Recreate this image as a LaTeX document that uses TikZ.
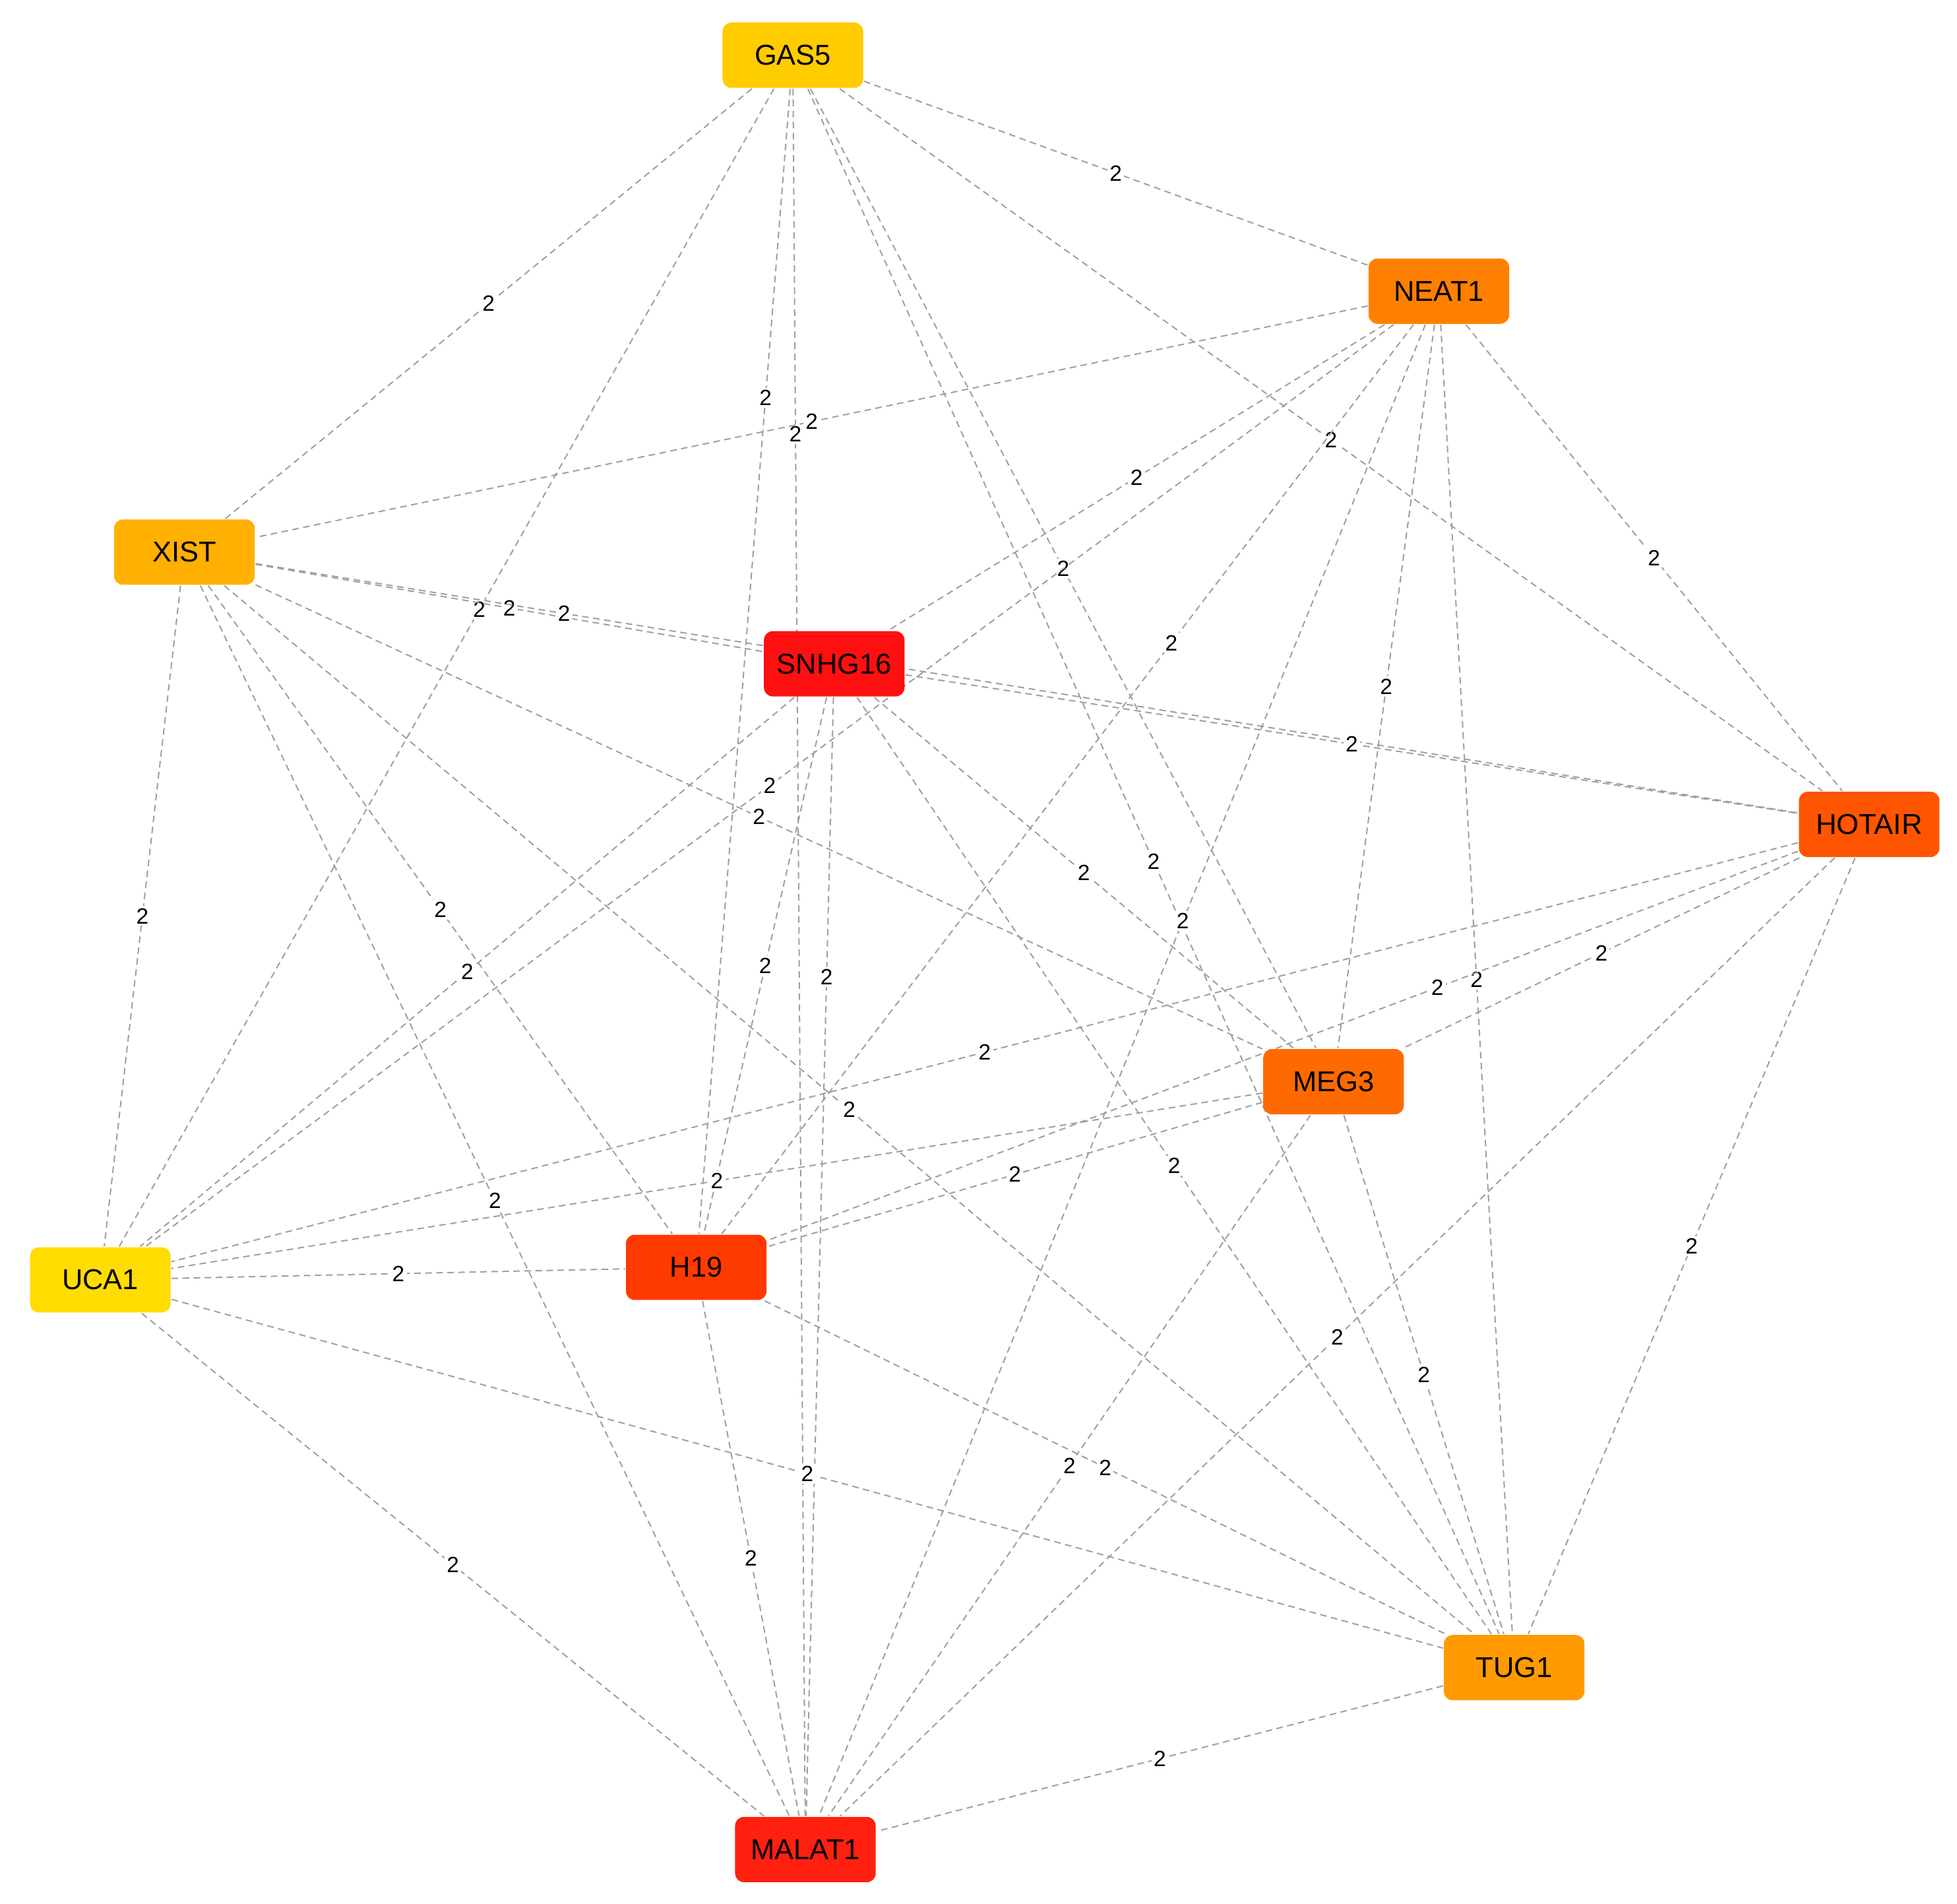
\documentclass[tikz,border=0pt]{standalone}
\usepackage{fontspec}
\setmainfont{Liberation Sans}
\definecolor{cGAS5}{RGB}{255,204,0}
\definecolor{cNEAT1}{RGB}{255,128,0}
\definecolor{cXIST}{RGB}{255,176,0}
\definecolor{cSNHG16}{RGB}{255,16,16}
\definecolor{cHOTAIR}{RGB}{255,85,0}
\definecolor{cMEG3}{RGB}{255,106,0}
\definecolor{cUCA1}{RGB}{255,221,0}
\definecolor{cH19}{RGB}{255,58,0}
\definecolor{cTUG1}{RGB}{255,154,0}
\definecolor{cMALAT1}{RGB}{255,32,16}
\begin{document}
\begin{tikzpicture}[x=0.01cm,y=-0.01cm,
  gene/.style={draw=none,rounded corners=2pt,minimum width=1.12cm,minimum height=0.52cm,font=\fontsize{6.5}{8}\selectfont,inner sep=0pt},
  lnk/.style={draw=gray!75,dash pattern=on 1.5pt off 1pt,line width=0.3pt},
  wt/.style={font=\fontsize{5}{6}\selectfont,inner sep=0.5pt,fill=white}]
\useasboundingbox (0,0) rectangle (1560,1517);
\foreach \n/\x/\y in {GAS5/632/44,NEAT1/1147/232,XIST/147/440,SNHG16/665/529,HOTAIR/1490/657,MEG3/1063/862,UCA1/80/1020,H19/555/1010,TUG1/1207/1329,MALAT1/642/1474}
  \node[gene] (\n) at (\x,\y) {};
\foreach \a/\b/\p in {GAS5/XIST/0.5,GAS5/UCA1/0.45,GAS5/NEAT1/0.5,GAS5/HOTAIR/0.5,GAS5/H19/0.27,GAS5/MALAT1/0.2,GAS5/MEG3/0.5,GAS5/TUG1/0.5,
 NEAT1/XIST/0.5,NEAT1/SNHG16/0.5,NEAT1/UCA1/0.5,NEAT1/H19/0.35,NEAT1/MALAT1/0.4,NEAT1/MEG3/0.5,NEAT1/TUG1/0.5,NEAT1/HOTAIR/0.5,
 XIST/SNHG16/0.5,XIST/HOTAIR/0.2,XIST/MEG3/0.5,XIST/TUG1/0.5,XIST/H19/0.5,XIST/MALAT1/0.5,XIST/UCA1/0.5,
 SNHG16/HOTAIR/0.5,SNHG16/UCA1/0.5,SNHG16/H19/0.5,SNHG16/MALAT1/0.25,SNHG16/MEG3/0.5,SNHG16/TUG1/0.5,
 HOTAIR/UCA1/0.5,HOTAIR/H19/0.35,HOTAIR/MEG3/0.5,HOTAIR/MALAT1/0.5,HOTAIR/TUG1/0.5,
 MEG3/UCA1/0.5,MEG3/H19/0.5,MEG3/MALAT1/0.5,MEG3/TUG1/0.5,
 UCA1/H19/0.5,UCA1/TUG1/0.5,UCA1/MALAT1/0.5,H19/TUG1/0.5,H19/MALAT1/0.5,TUG1/MALAT1/0.5}
  \draw[lnk] (\a) -- node[wt,pos=\p]{2} (\b);
\foreach \n in {GAS5,NEAT1,XIST,SNHG16,HOTAIR,MEG3,UCA1,H19,TUG1,MALAT1}
  \node[gene,fill=c\n] at (\n) {\n};
\end{tikzpicture}
\end{document}
